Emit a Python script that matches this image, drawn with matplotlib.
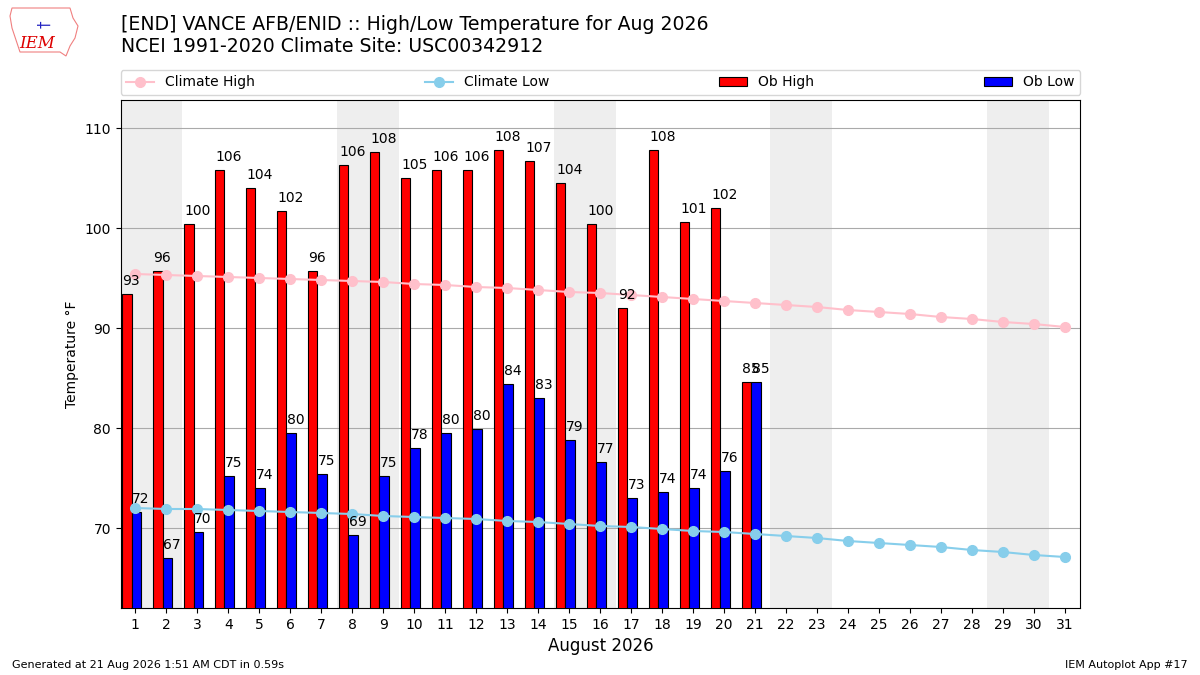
import matplotlib
matplotlib.use("Agg")
import matplotlib.pyplot as plt
from matplotlib.patches import Polygon
import numpy as np

days = list(range(1, 32))
ob_high = [93.4, 95.7, 100.4, 105.8, 104.0, 101.7, 95.7, 106.3, 107.6, 105.0,
           105.8, 105.8, 107.8, 106.7, 104.5, 100.4, 92.0, 107.8, 100.6, 102.0,
           84.6]
ob_low = [71.6, 67.0, 69.6, 75.2, 74.0, 79.5, 75.4, 69.3, 75.2, 78.0,
          79.5, 79.9, 84.4, 83.0, 78.8, 76.6, 73.0, 73.6, 74.0, 75.7,
          84.6]
clim_high = [95.4, 95.3, 95.2, 95.1, 95.0, 94.9, 94.8, 94.7, 94.6, 94.4,
             94.3, 94.1, 94.0, 93.8, 93.6, 93.5, 93.3, 93.1, 92.9, 92.7,
             92.5, 92.3, 92.1, 91.8, 91.6, 91.4, 91.1, 90.9, 90.6, 90.4, 90.1]
clim_low = [72.0, 71.9, 71.9, 71.8, 71.7, 71.6, 71.5, 71.4, 71.2, 71.1,
            71.0, 70.9, 70.7, 70.6, 70.4, 70.2, 70.1, 69.9, 69.7, 69.6,
            69.4, 69.2, 69.0, 68.7, 68.5, 68.3, 68.1, 67.8, 67.6, 67.3, 67.1]
high_labels = [93, 96, 100, 106, 104, 102, 96, 106, 108, 105, 106, 106, 108,
               107, 104, 100, 92, 108, 101, 102, 85]
low_labels = [72, 67, 70, 75, 74, 80, 75, 69, 75, 78, 80, 80, 84, 83, 79, 77,
              73, 74, 74, 76, 85]
weekend_starts = [1, 8, 15, 22, 29]

W, H = 1200, 675
fig = plt.figure(figsize=(12, 6.75), dpi=100)
ax = fig.add_axes([120.7 / W, 1 - 608 / H, (1080.3 - 120.7) / W, 508 / H])

for s in weekend_starts:
    ax.axvspan(s - 0.5, s + 1.5, color="#eeeeee", zorder=0, lw=0)

obs_days = np.array(days[:len(ob_high)])
ax.bar(obs_days - 0.42, ob_high, width=0.3, align="edge", color="red",
       edgecolor="black", linewidth=0.8, label="Ob High", zorder=3)
ax.bar(obs_days - 0.12, ob_low, width=0.3, align="edge", color="blue",
       edgecolor="black", linewidth=0.8, label="Ob Low", zorder=3)

for d, v, lab in zip(obs_days, ob_high, high_labels):
    ax.text(d - 0.41, v + 0.6, f"{lab}", ha="left", va="bottom", fontsize=10, zorder=5)
for d, v, lab in zip(obs_days, ob_low, low_labels):
    ax.text(d - 0.11, v + 0.6, f"{lab}", ha="left", va="bottom", fontsize=10, zorder=5)

ax.plot(days, clim_high, color="pink", marker="o", markersize=7, lw=1.5,
        label="Climate High", zorder=4)
ax.plot(days, clim_low, color="skyblue", marker="o", markersize=7, lw=1.5,
        label="Climate Low", zorder=4)

ax.set_xlim(0.53, 31.5)
ax.set_ylim(62, 112.8)
ax.set_xticks(days)
ax.set_yticks([70, 80, 90, 100, 110])
ax.tick_params(labelsize=10)
ax.grid(axis="y", color="#aaaaaa", lw=0.8, zorder=1)
ax.set_axisbelow(True)
ax.set_xlabel("August 2026", fontsize=12)
ax.set_ylabel("Temperature \u00b0F", fontsize=10)

handles, labels = ax.get_legend_handles_labels()
order = [labels.index(n) for n in ["Climate High", "Climate Low", "Ob High", "Ob Low"]]
ax.legend([handles[i] for i in order], [labels[i] for i in order],
          loc="lower left", bbox_to_anchor=(0, 1.01, 1, 0.05), mode="expand",
          ncol=4, fontsize=10, borderaxespad=0)

fig.text(121 / W, 1 - 24 / H, "[END] VANCE AFB/ENID :: High/Low Temperature for Aug 2026",
         fontsize=13.6, va="center", ha="left")
fig.text(121 / W, 1 - 47 / H, "NCEI 1991-2020 Climate Site: USC00342912",
         fontsize=13.6, va="center", ha="left")

# logo (approximate outline)
outline_px = [(12, 8), (70, 8), (73, 18), (78, 26), (75, 38), (70, 46), (66, 56),
              (60, 52), (20, 52), (16, 40), (12, 28), (10, 16)]
logo = Polygon([(x / W, 1 - y / H) for x, y in outline_px], closed=True,
               fill=False, edgecolor="#f08080", lw=0.8, transform=fig.transFigure)
fig.add_artist(logo)
fig.text(37 / W, 1 - 43 / H, "IEM", fontsize=12, color="#dd0000", family="DejaVu Serif",
         style="italic", ha="center", va="center")
fig.text(45 / W, 1 - 24 / H, "\u2020", fontsize=11, color="#2020c0", ha="center",
         va="center", rotation=90)

fig.text(12 / W, 1 - 665 / H, "Generated at 21 Aug 2026 1:51 AM CDT in 0.59s", fontsize=8,
         ha="left", va="center")
fig.text(1188 / W, 1 - 665 / H, "IEM Autoplot App #17", fontsize=8, ha="right", va="center")

fig.savefig("out.png", dpi=100)
